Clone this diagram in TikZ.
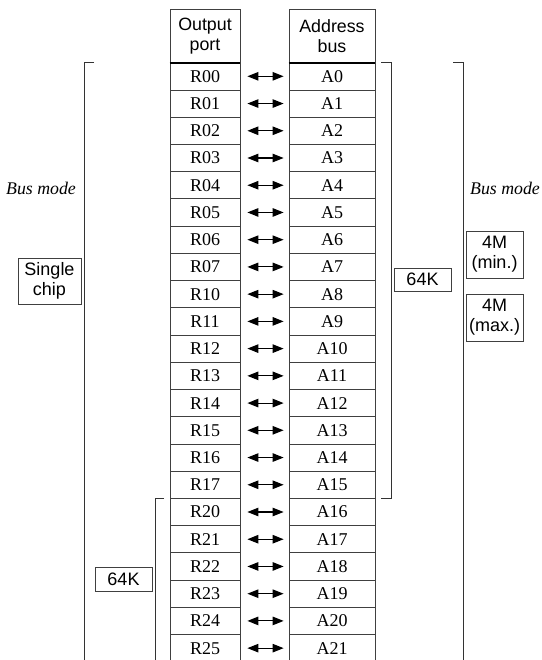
\documentclass[tikz,border=0pt]{standalone}
\usepackage{fontspec}
\setmainfont{Liberation Serif}
\setsansfont{Liberation Sans}
\usetikzlibrary{arrows.meta}
\begin{document}
\begin{tikzpicture}[x=1pt,y=-1pt,
  cell/.style={draw=black!75, line width=0.8pt, minimum height=27.23pt, inner sep=0pt, font=\fontsize{18}{20}\selectfont},
  lcell/.style={cell, minimum width=70pt},
  rcell/.style={cell, minimum width=86pt},
  head/.style={draw=black!75, line width=0.8pt, minimum height=53.7pt, inner sep=0pt, align=center, font=\sffamily\fontsize{17.8}{20}\selectfont},
  lbl/.style={draw=black!75, line width=0.8pt, inner sep=0pt, align=center, font=\sffamily\fontsize{18}{20}\selectfont},
  itl/.style={font=\itshape\fontsize{17.8}{20}\selectfont},
  dbl/.style={{Triangle[length=11pt,width=8.5pt]}-{Triangle[length=11pt,width=8.5pt]}, line width=1.1pt, shorten <=7pt, shorten >=5pt},
  brk/.style={line width=1pt, draw=black!80},
  thk/.style={line width=2pt, draw=black}
]
\useasboundingbox (0,0) rectangle (541,660);
\clip (0,0) rectangle (541,660);
% headers
\node[head, minimum width=70pt] (hl) at (205,35.85) {Output\\port};
\node[head, minimum width=86pt] (hr) at (332,35.85) {Address\\bus};
% rows
\foreach \r/\a [count=\k from 0] in {00/0,01/1,02/2,03/3,04/4,05/5,06/6,07/7,10/8,11/9,12/10,13/11,14/12,15/13,16/14,17/15,20/16,21/17,22/18,23/19,24/20,25/21}{
  \node[lcell] (r\k) at (205,{62.7+(\k+0.5)*27.23}) {R\r};
  \node[rcell] (a\k) at (332,{62.7+(\k+0.5)*27.23}) {A\a};
  \draw[dbl] (r\k.east) -- (a\k.west);
}
\draw[thk] (hl.south west) -- (hl.south east);
\draw[thk] (hr.south west) -- (hr.south east);
% brackets
\coordinate (lot) at (94,62.7);
\coordinate (lob) at (84,670);
\draw[brk] (lot) -- (84,62.7) -- (lob);
\coordinate (lit) at (164,498.3);
\coordinate (lib) at (155,670);
\draw[brk] (lit) -- (155,498.3) -- (lib);
\coordinate (rit) at (381,62.7);
\coordinate (rib) at (381,498.3);
\draw[brk] (rit) -- (391,62.7) -- (391,498.3) -- (rib);
\coordinate (rot) at (453,62.7);
\coordinate (rob) at (463,670);
\draw[brk] (rot) -- (463,62.7) -- (rob);
% labels
\node[itl] (bml) at (41,188) {Bus mode};
\node[itl] (bmr) at (505,188) {Bus mode};
\node[lbl, minimum width=63pt, minimum height=46pt] (sc) at (49.5,281) {Single\\chip};
\node[lbl, minimum width=57pt, minimum height=23pt] (k64r) at (422.5,279.5) {64K};
\node[lbl, minimum width=57pt, minimum height=24pt] (k64l) at (123.5,579) {64K};
\node[lbl, minimum width=57pt, minimum height=47pt] (m4a) at (494.5,254.5) {4M\\(min.)};
\node[lbl, minimum width=57pt, minimum height=47pt] (m4b) at (494.5,317.5) {4M\\(max.)};
\end{tikzpicture}
\end{document}
